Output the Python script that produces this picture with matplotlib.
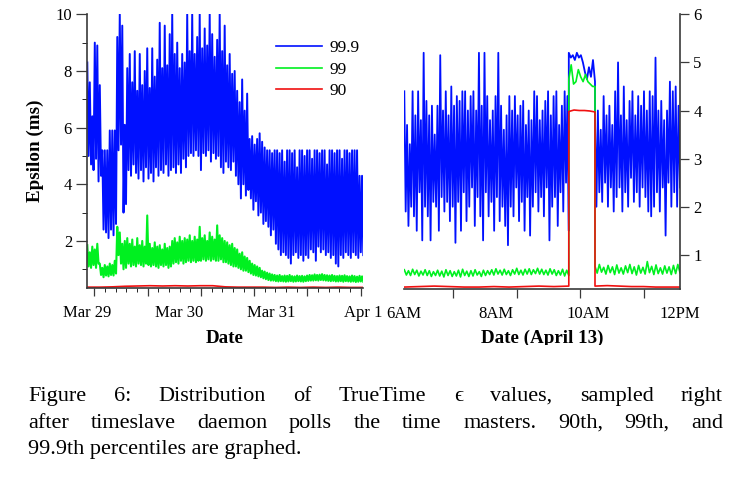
import numpy as np
import matplotlib
matplotlib.use("Agg")
import matplotlib.pyplot as plt
from matplotlib.patches import Rectangle

plt.rcParams["font.family"] = ["Liberation Serif", "DejaVu Serif"]
plt.rcParams["font.size"] = 12

# ---------------- data ----------------
# left panel: Mar 29 .. Apr 1, days since Mar 29, zig-zag between upper / lower excursions
left_labels = ["Mar 29", "Mar 30", "Mar 31", "Apr 1"]
blue_hi_left = [
    8.3, 7.6, 6.4, 9.0, 8.9, 7.5, 5.2, 5.2, 5.2, 5.9,
    5.9, 5.9, 9.2, 10.0, 9.6, 6.1, 8.1, 8.6, 7.6, 8.7,
    7.3, 8.6, 7.5, 8.0, 8.8, 7.4, 8.8, 7.8, 8.4, 9.7,
    8.1, 9.6, 8.2, 9.3, 10.0, 8.6, 9.0, 8.1, 8.6, 8.3,
    10.0, 8.7, 10.0, 8.6, 9.2, 10.0, 8.8, 9.5, 8.9, 10.0,
    9.3, 8.5, 9.1, 10.0, 8.7, 9.6, 8.2, 8.6, 7.9, 8.0,
    7.3, 6.9, 7.7, 6.6, 7.2, 5.6, 5.7, 5.4, 5.6, 5.8,
    5.5, 5.3, 5.2, 5.2, 5.1, 5.2, 5.2, 5.1, 5.2, 4.8,
    5.2, 5.2, 5.1, 5.2, 4.6, 5.2, 5.2, 5.0, 5.2, 5.2,
    4.9, 5.2, 5.2, 5.1, 5.2, 5.2, 4.7, 5.2, 5.2, 5.1,
    5.2, 5.2, 4.9, 5.2, 5.2, 5.1, 5.2, 5.2, 5.2, 4.3, 4.3,
]
blue_lo_left = [
    5.0, 4.7, 4.5, 4.9, 4.1, 4.3, 2.4, 2.3, 2.1, 2.4,
    2.2, 2.6, 5.2, 5.4, 3.0, 3.3, 4.5, 4.3, 4.7, 4.4,
    4.2, 4.5, 4.1, 4.6, 4.2, 4.4, 4.1, 4.6, 4.3, 4.5,
    4.4, 4.7, 4.3, 4.5, 4.6, 4.4, 4.7, 4.4, 4.9, 4.6,
    5.0, 5.1, 5.0, 5.2, 5.0, 4.5, 5.1, 5.0, 5.2, 4.8,
    5.1, 4.9, 5.0, 4.6, 4.4, 4.8, 4.6, 4.5, 4.8, 4.3,
    4.0, 3.5, 4.0, 3.6, 3.8, 3.5, 3.1, 3.4, 2.9, 3.0,
    2.6, 2.7, 2.5, 2.2, 2.4, 1.9, 1.7, 1.5, 1.6, 1.5,
    1.4, 1.2, 1.5, 1.6, 1.4, 1.5, 1.3, 1.5, 1.4, 1.7,
    1.6, 1.3, 1.8, 1.6, 1.7, 1.5, 1.6, 1.4, 1.5, 1.2,
    1.1, 1.5, 1.4, 1.6, 1.5, 1.4, 1.6, 1.5, 1.4, 1.6, 1.5,
]
green_hi_left = [
    1.85, 1.60, 1.80, 1.70, 1.90, 1.20, 1.05, 1.15, 1.10, 1.20,
    1.15, 1.30, 2.50, 2.30, 1.90, 2.00, 2.10, 1.90, 2.05, 1.80,
    2.10, 1.85, 2.00, 1.80, 2.90, 1.90, 1.75, 1.95, 1.80, 1.85,
    1.70, 1.90, 1.75, 1.80, 2.00, 2.10, 1.95, 2.15, 2.00, 2.10,
    2.05, 2.20, 2.00, 2.15, 2.05, 2.50, 2.10, 2.20, 2.00, 2.30,
    2.15, 2.05, 2.55, 2.20, 2.10, 2.00, 1.95, 1.85, 1.90, 1.75,
    1.70, 1.55, 1.60, 1.45, 1.40, 1.30, 1.20, 1.15, 1.10, 1.05,
    0.95, 0.92, 0.88, 0.85, 0.82, 0.80, 0.78, 0.80, 0.76, 0.78,
    0.77, 0.80, 0.76, 0.75, 0.78, 0.76, 0.77, 0.75, 0.78, 0.80,
    0.79, 0.82, 0.80, 0.81, 0.83, 0.80, 0.79, 0.78, 0.80, 0.77,
    0.76, 0.78, 0.77, 0.79, 0.76, 0.75, 0.78, 0.76, 0.74, 0.77, 0.75,
]
green_lo_left = [
    1.10, 1.05, 1.15, 1.05, 1.20, 0.80, 0.72, 0.78, 0.75, 0.80,
    0.78, 0.85, 1.50, 1.20, 1.00, 1.05, 1.20, 1.10, 1.15, 1.10,
    1.20, 1.15, 1.10, 1.20, 1.15, 1.10, 1.15, 1.10, 1.05, 1.15,
    1.10, 1.15, 1.05, 1.10, 1.20, 1.25, 1.20, 1.30, 1.20, 1.25,
    1.30, 1.25, 1.30, 1.25, 1.30, 1.30, 1.35, 1.30, 1.35, 1.30,
    1.35, 1.30, 1.30, 1.35, 1.25, 1.25, 1.20, 1.15, 1.10, 1.10,
    1.05, 1.00, 0.95, 0.95, 0.90, 0.85, 0.80, 0.78, 0.75, 0.72,
    0.68, 0.65, 0.62, 0.60, 0.60, 0.58, 0.57, 0.58, 0.57, 0.56,
    0.57, 0.58, 0.56, 0.57, 0.58, 0.57, 0.56, 0.58, 0.59, 0.60,
    0.60, 0.61, 0.60, 0.62, 0.61, 0.60, 0.59, 0.58, 0.59, 0.57,
    0.57, 0.58, 0.56, 0.58, 0.57, 0.56, 0.57, 0.55, 0.56, 0.57, 0.56,
]
red_left = [0.37, 0.37, 0.38, 0.40, 0.41, 0.42, 0.41, 0.42, 0.41, 0.42, 0.42, 0.38,
            0.37, 0.37, 0.37, 0.36, 0.37, 0.36, 0.37, 0.36, 0.37, 0.36, 0.36]

# right panel: April 13, hours of day; an event between EVENT_START and EVENT_END
right_labels = ["6AM", "8AM", "10AM", "12PM"]
RIGHT_START, EVENT_START, EVENT_END, RIGHT_END = 6.0, 9.58, 10.15, 12.0
blue_hi_pre = [
    4.4, 3.7, 3.3, 4.4, 3.9, 4.4, 3.8, 5.2, 4.2, 3.9,
    4.1, 3.5, 4.1, 5.15, 4.0, 4.4, 3.9, 4.5, 4.1, 4.3,
    4.2, 4.4, 4.4, 4.0, 4.3, 4.4, 4.0, 5.2, 4.1, 5.2,
    4.3, 3.8, 4.0, 4.3, 5.2, 4.1, 3.6, 3.9, 4.3, 4.0,
    4.3, 3.9, 4.1, 4.2, 3.7, 4.0, 3.8, 4.4, 4.3, 3.8,
    4.0, 4.2, 4.4, 3.9, 4.3, 4.4, 3.7, 4.1, 4.4, 4.3,
]
blue_lo_pre = [
    1.9, 1.6, 2.0, 1.8, 1.5, 2.3, 1.3, 2.0, 1.8, 1.3,
    2.1, 2.0, 1.5, 2.2, 1.9, 2.1, 1.7, 2.0, 1.25, 2.1,
    1.5, 2.3, 1.7, 2.0, 2.4, 1.6, 2.2, 1.8, 1.3, 2.3,
    1.8, 2.1, 1.5, 2.2, 1.7, 2.0, 1.6, 1.2, 2.0, 1.8,
    2.4, 1.7, 2.1, 1.5, 2.2, 1.4, 2.0, 2.3, 1.9, 2.2,
    1.8, 2.4, 1.3, 2.0, 2.2, 1.6, 2.3, 1.9, 2.5, 1.5,
]
blue_event = [5.2, 5.1, 5.15, 5.05, 5.2, 5.1, 5.15, 5.0, 4.8, 4.65, 4.9, 4.7, 5.05, 4.6]
blue_hi_post = [
    3.8, 4.0, 3.6, 4.3, 3.9, 4.1, 3.7, 4.4, 5.0, 3.9,
    4.5, 3.8, 4.2, 4.4, 3.9, 4.3, 4.1, 4.4, 4.0, 4.4,
    4.3, 5.1, 4.0, 4.2, 3.8, 4.0, 4.6, 4.4, 4.5, 4.1,
]
blue_lo_post = [
    2.0, 2.3, 2.1, 2.5, 2.0, 2.4, 1.9, 2.2, 2.4, 1.9,
    2.3, 2.0, 2.6, 2.1, 2.3, 2.0, 2.4, 2.2, 1.9, 1.8,
    2.0, 2.3, 1.9, 2.4, 1.4, 2.5, 2.0, 2.3, 2.0, 2.4,
]
green_hi_pre = [
    0.69, 0.67, 0.70, 0.68, 0.66, 0.69, 0.67, 0.65, 0.68, 0.66,
    0.69, 0.67, 0.65, 0.68, 0.70, 0.66, 0.67, 0.69, 0.65, 0.68,
    0.67, 0.69, 0.71, 0.68, 0.70, 0.67, 0.69, 0.72, 0.68, 0.70,
    0.71, 0.69, 0.72, 0.70, 0.68, 0.71, 0.69, 0.67, 0.70, 0.68,
]
green_lo_pre = [
    0.58, 0.57, 0.59, 0.56, 0.58, 0.57, 0.55, 0.57, 0.56, 0.54,
    0.57, 0.55, 0.56, 0.54, 0.57, 0.55, 0.56, 0.58, 0.55, 0.57,
    0.59, 0.58, 0.60, 0.58, 0.59, 0.57, 0.60, 0.59, 0.58, 0.60,
    0.59, 0.61, 0.60, 0.59, 0.58, 0.60, 0.57, 0.58, 0.56, 0.57,
]
green_event = [4.65, 4.95, 4.55, 4.6, 4.85, 4.7, 4.6, 4.75, 4.6, 4.55, 4.5, 4.5]
green_hi_post = [
    0.76, 0.80, 0.74, 0.78, 0.75, 0.79, 0.73, 0.77, 0.80, 0.75,
    0.78, 0.74, 0.86, 0.76, 0.79, 0.73, 0.77, 0.75, 0.78, 0.80,
]
green_lo_post = [
    0.62, 0.64, 0.60, 0.63, 0.59, 0.62, 0.60, 0.63, 0.61, 0.58,
    0.62, 0.60, 0.63, 0.59, 0.61, 0.60, 0.62, 0.59, 0.61, 0.63,
]
red_pre = [0.33, 0.34, 0.35, 0.34, 0.33, 0.33, 0.34, 0.33, 0.34, 0.35, 0.34, 0.35]
red_event = [3.98, 4.01, 4.00, 4.00, 3.99, 3.97]
red_post = [0.35, 0.36, 0.35, 0.34, 0.34, 0.33, 0.33, 0.33]

caption = [
    "Figure 6:  Distribution of TrueTime \u03f5 values, sampled right",
    "after timeslave daemon polls the time masters. 90th, 99th, and",
    "99.9th percentiles are graphed.",
]

BLUE, GREEN, RED = "#0010ff", "#00f020", "#f01010"
SPINE = "#3a3a3a"


def zigzag(t0, t1, hi, lo):
    # alternate the upper and lower excursion of each sample
    t = np.linspace(t0, t1, 2 * len(hi))
    y = np.empty(2 * len(hi))
    y[0::2] = hi
    y[1::2] = lo
    return t, y


def segments(parts):
    ts, ys = zip(*parts)
    return np.concatenate(ts), np.concatenate(ys)


def style_axis(ax, side):
    for s in ["top", "left", "right", "bottom"]:
        ax.spines[s].set_visible(s in ("bottom", side))
        ax.spines[s].set_color(SPINE)
        ax.spines[s].set_linewidth(1.2)
    ax.tick_params(colors=SPINE, labelcolor="black", width=0.9)


def date_labels(ax, labels):
    for frac, lab in zip(np.linspace(0, 1, len(labels)), labels):
        ax.annotate(lab, (frac, 0), xycoords="axes fraction", xytext=(0, -21),
                    textcoords="offset points", ha="center", va="baseline",
                    fontsize=12, annotation_clip=False)


def justify(fig, text, x0, x1, y, **kw):
    words = text.split()
    items = [fig.text(0, y, w, va="baseline", **kw) for w in words]
    r = fig.canvas.get_renderer()
    widths = [t.get_window_extent(r).width for t in items]
    W = fig.bbox.width
    gap = ((x1 - x0) * W - sum(widths)) / (len(words) - 1)
    pos = x0 * W
    for t, w in zip(items, widths):
        t.set_x(pos / W)
        pos += w + gap


fig = plt.figure(figsize=(7.44, 5), dpi=100)
ax1 = fig.add_axes([87.3 / 744, 1 - 287.7 / 500, 276 / 744, 273.4 / 500])
ax2 = fig.add_axes([404.3 / 744, 1 - 288.5 / 500, 275.7 / 744, 274.2 / 500])

# ---- left panel ----
tb, yb = zigzag(0, 3, blue_hi_left, blue_lo_left)
tg, yg = zigzag(0, 3, green_hi_left, green_lo_left)
ax1.plot(tb, yb, color=BLUE, lw=1.4, label="99.9")
ax1.plot(tg, yg, color=GREEN, lw=1.5, label="99")
ax1.plot(np.linspace(0, 3, len(red_left)), red_left, color=RED, lw=1.2, label="90")
ax1.set_xlim(0, 3)
ax1.set_ylim(0.35, 10)
style_axis(ax1, "left")
ax1.set_yticks([2, 4, 6, 8, 10])
ax1.set_yticks([1, 3, 5, 7, 9], minor=True)
ax1.tick_params(axis="y", which="major", length=8, pad=3, labelsize=12)
ax1.tick_params(axis="y", which="minor", length=3.6)
xt = 0.076 + 0.5793 * np.arange(6)
ax1.set_xticks(xt)
ax1.set_xticks(np.arange(xt[0], xt[-1] + 1e-6, 0.5793 / 5), minor=True)
ax1.tick_params(axis="x", which="major", length=6, labelbottom=False)
ax1.tick_params(axis="x", which="minor", length=3)
date_labels(ax1, left_labels)

leg = ax1.legend(loc="upper left", bbox_to_anchor=(0.684, 0.905), frameon=False,
                 fontsize=12.5, handlelength=2.65, handletextpad=0.4,
                 labelspacing=0.3, borderpad=0, borderaxespad=0)
for h in leg.get_lines():
    h.set_linewidth(1.2)

# ---- right panel ----
tb, yb = segments([
    zigzag(RIGHT_START, EVENT_START, blue_hi_pre, blue_lo_pre),
    (np.linspace(EVENT_START, EVENT_END, len(blue_event)), np.array(blue_event)),
    zigzag(EVENT_END, RIGHT_END, blue_hi_post, blue_lo_post),
])
tg, yg = segments([
    zigzag(RIGHT_START, EVENT_START, green_hi_pre, green_lo_pre),
    (np.linspace(EVENT_START, EVENT_END, len(green_event)), np.array(green_event)),
    zigzag(EVENT_END, RIGHT_END, green_hi_post, green_lo_post),
])
tr, yr = segments([
    (np.linspace(RIGHT_START, EVENT_START, len(red_pre)), np.array(red_pre)),
    (np.linspace(EVENT_START, EVENT_END, len(red_event)), np.array(red_event)),
    (np.linspace(EVENT_END, RIGHT_END, len(red_post)), np.array(red_post)),
])
ax2.plot(tb, yb, color=BLUE, lw=1.3)
ax2.plot(tg, yg, color=GREEN, lw=1.2)
ax2.plot(tr, yr, color=RED, lw=1.2)
ax2.set_xlim(RIGHT_START, RIGHT_END)
ax2.set_ylim(0.3, 6)
style_axis(ax2, "right")
ax2.yaxis.tick_right()
ax2.set_yticks([1, 2, 3, 4, 5, 6])
ax2.tick_params(axis="y", length=6.5, pad=3, labelsize=12)
ax2.set_xticks(7.066 + 1.382 * np.arange(4))
ax2.tick_params(axis="x", length=6.5, labelbottom=False)
date_labels(ax2, right_labels)

# axis titles
fig.text(35 / 744, 1 - 151 / 500, "Epsilon (ms)", rotation=90, ha="center",
         va="center", fontsize=13.7, fontweight="bold")
fig.text(225 / 744, 1 - 343 / 500, "Date", ha="center", va="baseline",
         fontsize=13.7, fontweight="bold")
fig.text(542 / 744, 1 - 343 / 500, "Date (April 13)", ha="center", va="baseline",
         fontsize=13.7, fontweight="bold")
# the source image is cropped just below the axis titles
fig.add_artist(Rectangle((0, 1 - 368 / 500), 1, 23.5 / 500, transform=fig.transFigure,
                         facecolor="white", edgecolor="none", zorder=10))

# caption, justified like the paper text
base = [401, 428, 454]
for i, line in enumerate(caption):
    y = 1 - base[i] / 500
    if i < len(caption) - 1:
        justify(fig, line, 28 / 744, 723 / 744, y, fontsize=16)
    else:
        fig.text(28 / 744, y, line, va="baseline", fontsize=16)

fig.savefig("out.png", dpi=100)
